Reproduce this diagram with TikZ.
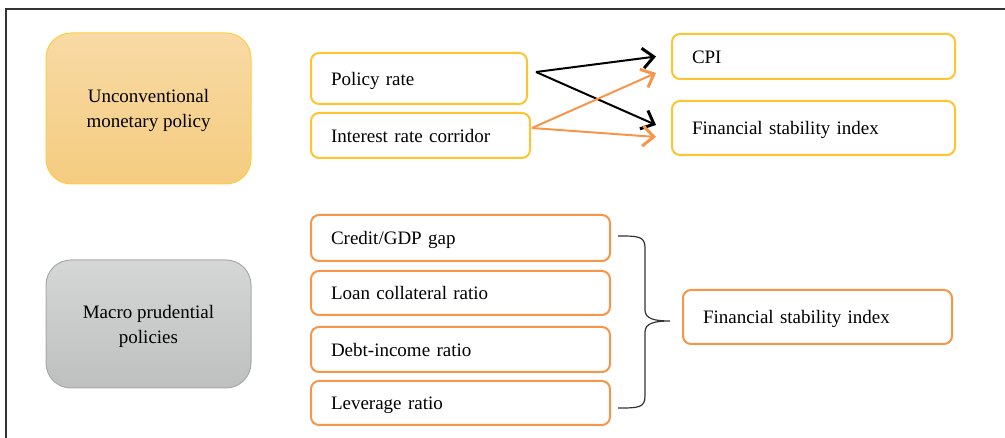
\documentclass[tikz,border=0pt]{standalone}
\usepackage{fontspec}
\setmainfont{Liberation Serif}
\usetikzlibrary{arrows.meta,calc}
\definecolor{ybord}{HTML}{FFC531}
\definecolor{obord}{HTML}{F5964A}
\definecolor{ytop}{HTML}{F8DAA5}
\definecolor{ybot}{HTML}{F5CC80}
\definecolor{ymain}{HTML}{FFCC44}
\definecolor{gtop}{HTML}{D5D6D6}
\definecolor{gbot}{HTML}{BEBFBF}
\definecolor{gbord}{HTML}{A9A9A9}
\definecolor{frame}{HTML}{333333}
\tikzset{
  bigbox/.style={rounded corners=25pt, minimum width=205pt, align=center, inner sep=0pt,
    font=\fontsize{19}{25}\selectfont, line width=1pt, text height=42pt, text depth=3pt},
  smallbox/.style={rounded corners=8pt, line width=2pt, inner xsep=20pt, inner ysep=0pt,
    align=left, font=\fontsize{19}{22}\selectfont, text height=17pt, text depth=3pt},
  ybox/.style={smallbox, draw=ybord},
  obox/.style={smallbox, draw=obord},
  blackarrow/.style={line width=2pt, black, -{Straight Barb[length=11pt,width=20pt,line width=3pt]}},
  orangearrow/.style={line width=2pt, obord, -{Straight Barb[length=11pt,width=20pt,line width=3pt]}},
}
\begin{document}
\begin{tikzpicture}[x=1pt,y=-1pt]
\useasboundingbox (0,0) rectangle (1005,438);
% frame
\draw[frame, line width=1.5pt] (6,438) coordinate (fbl) -- (6,9) coordinate (ftl) -- (1005,9) coordinate (ftr);
% big boxes
\node[bigbox, draw=ymain, top color=ytop, bottom color=ybot, minimum height=151pt] (ump) at (148.5,108.5) {Unconventional\\monetary policy};
\node[bigbox, draw=gbord, top color=gtop, bottom color=gbot, minimum height=128pt] (mpp) at (148.5,324) {Macro prudential\\policies};
% top group
\node[ybox, text width=176pt, minimum height=51pt] (pr) at (419,78.5) {Policy rate};
\node[ybox, text width=179pt, minimum height=45pt] (irc) at (420.5,135.5) {Interest rate corridor};
\node[ybox, text width=243pt, minimum height=45pt] (cpi) at (813.5,56.5) {CPI};
\node[ybox, text width=243pt, minimum height=54pt] (fsi1) at (813.5,128) {Financial stability index};
% arrows
\coordinate (prout) at (536,72);
\coordinate (ircout) at (532,128);
\coordinate (cpiin1) at ($(cpi.west)+(-15,0)$);
\coordinate (cpiin2) at ($(cpi.west)+(-15,16.5)$);
\coordinate (fsiin1) at ($(fsi1.west)+(-15,-3)$);
\coordinate (fsiin2) at ($(fsi1.west)+(-15,9)$);
\draw[blackarrow] (prout) -- (cpiin1);
\draw[blackarrow] (prout) -- (fsiin1);
\draw[orangearrow] (ircout) -- (cpiin2);
\draw[orangearrow] (ircout) -- (fsiin2);
% bottom group
\node[obox, text width=259pt, minimum height=46pt] (cg) at (460.5,238) {Credit/GDP gap};
\node[obox, text width=259pt, minimum height=44pt] (lc) at (460.5,293) {Loan collateral ratio};
\node[obox, text width=259pt, minimum height=45pt] (di) at (460.5,349.5) {Debt-income ratio};
\node[obox, text width=259pt, minimum height=44pt] (lv) at (460.5,403) {Leverage ratio};
\node[obox, text width=229pt, minimum height=54pt] (fsi2) at (817.5,317) {Financial stability index};
% brace
\coordinate (btop) at (618,236);
\coordinate (bbot) at (618,408);
\coordinate (btip) at (670,321);
\draw[frame, line width=1.2pt] (btop) .. controls (638,236) and (645,236) .. (645,248)
  -- (645,310) .. controls (645,319) and (655,321) .. (btip)
  .. controls (655,321) and (645,323) .. (645,332)
  -- (645,396) .. controls (645,408) and (638,408) .. (bbot);
\end{tikzpicture}
\end{document}
